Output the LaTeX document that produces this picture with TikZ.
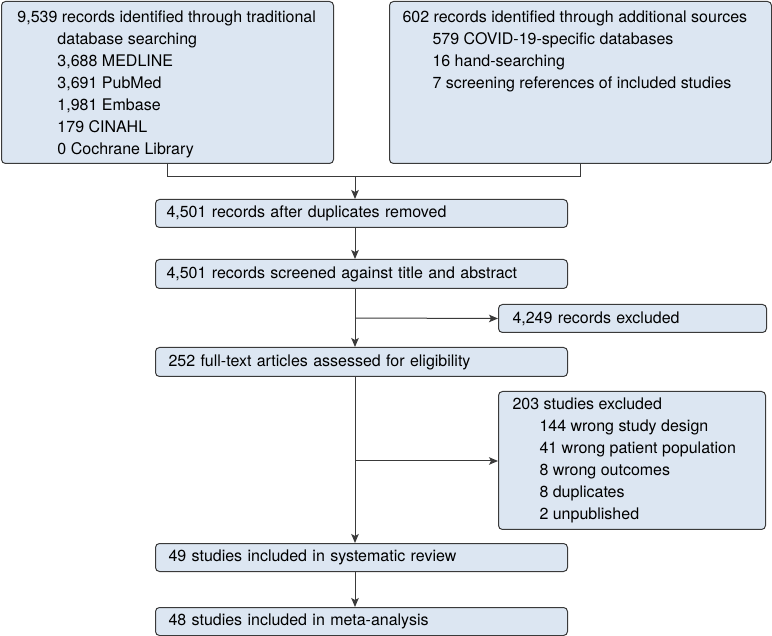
\documentclass[tikz,border=0pt]{standalone}
\usepackage{fontspec}
\setmainfont{TeX Gyre Heros}
\usetikzlibrary{arrows.meta}
\definecolor{boxfill}{HTML}{DCE6F2}
\definecolor{boxline}{HTML}{3A3A3A}
\tikzset{
  box/.style={draw=boxline, fill=boxfill, line width=1pt, rounded corners=4pt,
    inner ysep=0pt, align=left, anchor=north west,
    font=\fontsize{16}{22}\selectfont},
  conn/.style={draw=boxline, line width=1pt},
  arr/.style={conn, -{Stealth[length=9pt,width=7.5pt,inset=2pt]}},
}
\begin{document}
\begin{tikzpicture}[x=1pt,y=-1pt]
\useasboundingbox (0,0) rectangle (772,636);
% top boxes
\node[box, inner xsep=0pt] (b1) at (1,1)
  {\parbox[c][162pt][t]{332pt}{\vspace*{9pt}\hspace*{16pt}9,539 records identified through traditional\\
   \hspace*{56pt}database searching\\
   \hspace*{56pt}3,688 MEDLINE\\
   \hspace*{56pt}3,691 PubMed\\
   \hspace*{56pt}1,981 Embase\\
   \hspace*{56pt}179 CINAHL\\
   \hspace*{56pt}0 Cochrane Library}};
\node[box, inner xsep=0pt] (b2) at (389,1)
  {\parbox[c][162pt][t]{382pt}{\vspace*{9pt}\hspace*{13pt}602 records identified through additional sources\\
   \hspace*{43pt}579 COVID-19-specific databases\\
   \hspace*{43pt}16 hand-searching\\
   \hspace*{43pt}7 screening references of included studies}};
% main column
\node[box, inner xsep=11pt, text width=390pt, minimum height=28pt] (b3) at (155,199) {4,501 records after duplicates removed};
\node[box, inner xsep=11pt, text width=390pt, minimum height=29pt] (b4) at (155,259) {4,501 records screened against title and abstract};
\node[box, inner xsep=14pt, text width=240pt, minimum height=28pt] (b5) at (498,304) {4,249 records excluded};
\node[box, inner xsep=13pt, text width=386pt, minimum height=29pt] (b6) at (155,347) {252 full-text articles assessed for eligibility};
\node[box, inner xsep=0pt] (b7) at (498,391)
  {\parbox[c][138pt][c]{267pt}{\hspace*{14pt}203 studies excluded\\
   \hspace*{41pt}144 wrong study design\\
   \hspace*{41pt}41 wrong patient population\\
   \hspace*{41pt}8 wrong outcomes\\
   \hspace*{41pt}8 duplicates\\
   \hspace*{41pt}2 unpublished}};
\node[box, inner xsep=13pt, text width=386pt, minimum height=28pt] (b8) at (155,543) {49 studies included in systematic review};
\node[box, inner xsep=13pt, text width=386pt, minimum height=28pt] (b9) at (155,607) {48 studies included in meta-analysis};
% connectors
\coordinate (j1) at (167,177);
\coordinate (j2) at (580,177);
\coordinate (m1) at (355,177);
\draw[conn] (b1.south -| j1) -- (j1) -- (j2) -- (b2.south -| j2);
\draw[arr] (m1) -- (b3.north -| m1);
\draw[arr] (b3.south -| m1) -- (b4.north -| m1);
\draw[arr] (b4.south -| m1) -- (b6.north -| m1);
\coordinate (m2) at (355,318);
\draw[arr] (m2) -- (b5.west);
\draw[arr] (b6.south -| m1) -- (b8.north -| m1);
\coordinate (m3) at (355,461);
\draw[arr] (m3) -- (m3 -| b7.west);
\draw[arr] (b8.south -| m1) -- (b9.north -| m1);
\end{tikzpicture}
\end{document}
